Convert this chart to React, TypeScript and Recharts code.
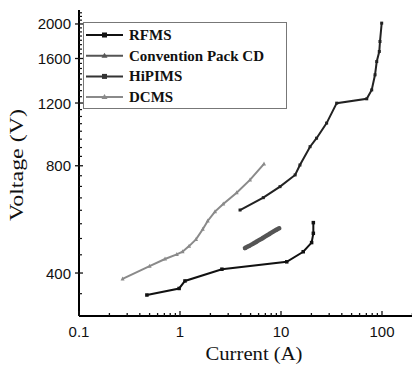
import React from 'react';
import { LineChart, Line, XAxis, YAxis, Legend } from 'recharts';

// values (log-log plot)
const seriesNames = ['RFMS', 'Convention Pack CD', 'HiPIMS', 'DCMS'];

const rfmsCurrent = [0.47, 0.98, 1.12, 2.6, 11.4, 16.6, 20.1, 20.9, 20.9];
const rfmsVoltage = [347, 362, 380, 410, 430, 459, 487, 517, 554];

const cpcdCurrent = [4.4, 4.8, 5.2, 5.6, 6.0, 6.5, 7.0, 7.6, 8.2, 8.9, 9.6];
const cpcdVoltage = [470, 476, 482, 488, 494, 500, 507, 514, 521, 528, 534];

const hipimsCurrent = [3.93, 6.68, 9.78, 13.8, 15.4, 19.4, 22.5, 28.3, 35.6, 70.6, 79.1, 85.3, 88.7, 94, 95.5, 99.3];
const hipimsVoltage = [601, 651, 699, 754, 804, 905, 956, 1054, 1199, 1233, 1306, 1440, 1569, 1674, 1786, 2011];

const dcmsCurrent = [0.27, 0.5, 0.71, 0.93, 1.06, 1.23, 1.44, 1.68, 1.88, 2.22, 2.68, 3.64, 4.93, 6.79];
const dcmsVoltage = [385, 418, 438, 451, 459, 476, 497, 531, 560, 595, 625, 672, 730, 810];

const xMajorTicks = [0.1, 1, 10, 100];
const yMajorTicks = [400, 800, 1200, 1600, 2000];

const xDomain = [0.1, 1000];
const yDomain = [303, 2189];

const zip = (xs: number[], ys: number[]) => xs.map((x, i) => ({ x, y: ys[i] }));

const rfmsData = zip(rfmsCurrent, rfmsVoltage);
const cpcdData = zip(cpcdCurrent, cpcdVoltage);
const hipimsData = zip(hipimsCurrent, hipimsVoltage);
const dcmsData = zip(dcmsCurrent, dcmsVoltage);

// minor ticks: 2..9 per decade on x, every 50 V on y
const xTicks: number[] = [];
for (let d = 0.1; d < 500; d *= 10) {
  for (let m = 1; m < 10; m++) xTicks.push(Number((m * d).toPrecision(3)));
}
const yTicks: number[] = [];
for (let v = 350; v <= 2150; v += 50) yTicks.push(v);

const sansFont = "'Liberation Sans', Arial, sans-serif";
const serifFont = "'Liberation Serif', 'Times New Roman', serif";

const XTick = (props: any) => {
  const { x, y, payload } = props;
  const major = xMajorTicks.includes(payload.value);
  return (
    <g>
      <line x1={x} x2={x} y1={y} y2={y - (major ? 5 : 3)} stroke="#111" strokeWidth={1.3} />
      {major && (
        <text x={x} y={y + 21} textAnchor="middle" fontSize={15} fontFamily={sansFont} fill="#111">
          {payload.value}
        </text>
      )}
    </g>
  );
};

const YTick = (props: any) => {
  const { x, y, payload } = props;
  const major = yMajorTicks.includes(payload.value);
  return (
    <g>
      {major ? (
        <line x1={x - 4} x2={x + 4} y1={y} y2={y} stroke="#111" strokeWidth={1.3} />
      ) : (
        <line x1={x} x2={x + 3} y1={y} y2={y} stroke="#111" strokeWidth={1.2} />
      )}
      {major && (
        <text x={x - 8} y={y + 5.5} textAnchor="end" fontSize={15} fontFamily={sansFont} fill="#111">
          {payload.value}
        </text>
      )}
    </g>
  );
};

const XTitle = () => (
  <text x={246} y={352} textAnchor="middle" fontSize={19} fontFamily={serifFont} fill="#111"
    textLength={97} lengthAdjust="spacingAndGlyphs">
    Current (A)
  </text>
);

const YTitle = () => (
  <text x={15} y={157} textAnchor="middle" fontSize={18} fontFamily={serifFont} fill="#111"
    transform="rotate(-90, 15, 157)" textLength={112} lengthAdjust="spacingAndGlyphs">
    Voltage (V)
  </text>
);

const square = (color: string, s: number) => (p: any) => (
  <rect key={`sq-${p.index}`} x={p.cx - s / 2} y={p.cy - s / 2} width={s} height={s} fill={color} />
);
const triangle = (color: string, s: number) => (p: any) => (
  <path key={`tr-${p.index}`}
    d={`M${p.cx},${p.cy - s * 0.6}L${p.cx + s / 2},${p.cy + s * 0.4}L${p.cx - s / 2},${p.cy + s * 0.4}Z`}
    fill={color} />
);

const legendStyle = [
  { color: '#111', shape: 'square' },
  { color: '#555', shape: 'triangle' },
  { color: '#333', shape: 'square' },
  { color: '#8a8a8a', shape: 'triangle' },
];

const LegendBox = () => (
  <div style={{ border: '1px solid #777', background: '#fff', width: 202, height: 85 }}>
    <svg width={202} height={85} style={{ display: 'block' }}>
      {seriesNames.map((name, i) => {
        const cy = 12 + i * 20.7;
        const st = legendStyle[i];
        return (
          <g key={name}>
            <line x1={2} x2={39} y1={cy} y2={cy} stroke={st.color} strokeWidth={2} />
            {st.shape === 'square' ? (
              <rect x={18} y={cy - 2.5} width={5} height={5} fill={st.color} />
            ) : (
              <path d={`M20.5,${cy - 3}L23.5,${cy + 2}L17.5,${cy + 2}Z`} fill={st.color} />
            )}
            <text x={45} y={cy + 5} fontSize={15} fontWeight="bold" fontFamily={serifFont} fill="#111">
              {name}
            </text>
          </g>
        );
      })}
    </svg>
  </div>
);

export default function App() {
  return (
    <div style={{ width: 412, height: 361, overflow: 'hidden' }}>
      <LineChart width={500} height={361} margin={{ top: 2, right: 25, bottom: 0, left: 0 }}>
        <XAxis dataKey="x" type="number" scale="log" domain={xDomain} allowDataOverflow
          ticks={xTicks} interval={0} tick={<XTick />} tickLine={false} tickSize={0} tickMargin={0}
          height={53} axisLine={{ stroke: '#000', strokeWidth: 2 }} label={<XTitle />} />
        <XAxis xAxisId="top" orientation="top" type="number" scale="log" domain={xDomain}
          allowDataOverflow height={0} tick={false} tickLine={false}
          axisLine={{ stroke: '#444', strokeWidth: 2 }} />
        <YAxis dataKey="y" type="number" scale="log" domain={yDomain} allowDataOverflow
          ticks={yTicks} interval={0} tick={<YTick />} tickLine={false} tickSize={0} tickMargin={0}
          width={71} axisLine={{ stroke: '#000', strokeWidth: 2 }} label={<YTitle />} />
        <Legend layout="vertical" align="center" verticalAlign="middle"
          wrapperStyle={{ left: 75, top: 14, width: 204 }} content={<LegendBox />} />
        <Line name={seriesNames[0]} data={rfmsData} dataKey="y" stroke="#111" strokeWidth={2}
          dot={square('#111', 3.5)} isAnimationActive={false} />
        <Line name={seriesNames[1]} data={cpcdData} dataKey="y" stroke="#555" strokeWidth={4.5}
          strokeLinecap="round" dot={triangle('#555', 4)} isAnimationActive={false} />
        <Line name={seriesNames[2]} data={hipimsData} dataKey="y" stroke="#222" strokeWidth={2}
          dot={square('#222', 3)} isAnimationActive={false} />
        <Line name={seriesNames[3]} data={dcmsData} dataKey="y" stroke="#8a8a8a" strokeWidth={2}
          dot={triangle('#8a8a8a', 4)} isAnimationActive={false} />
      </LineChart>
    </div>
  );
}
